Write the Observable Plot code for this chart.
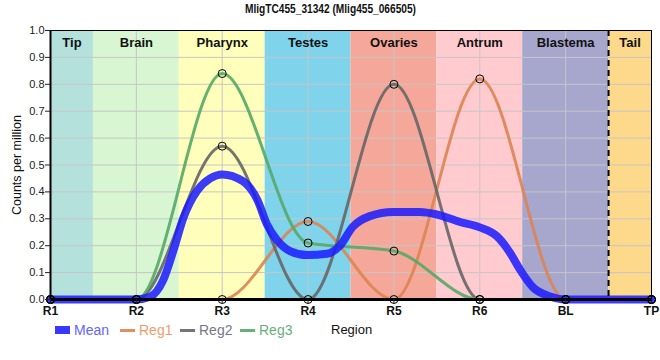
<!DOCTYPE html>
<html><head><meta charset="utf-8">
<script src="https://cdn.jsdelivr.net/npm/d3@7"></script>
<script src="https://cdn.jsdelivr.net/npm/@observablehq/plot@0.6"></script>
<style>
body{margin:0;background:#fff;font-family:"Liberation Sans",Arial,sans-serif;}
#wrap{position:relative;width:660px;height:360px;overflow:hidden;}
#title{position:absolute;top:1px;left:0;width:660px;text-align:center;font-weight:bold;font-size:13px;color:#111;line-height:16px;}
#tt{display:inline-block;transform-origin:center;}
#ylab{position:absolute;left:17px;top:165px;transform:translate(-50%,-50%) rotate(-90deg);font-size:12.5px;color:#111;white-space:nowrap;}
.lg{position:absolute;font-size:14px;line-height:16px;top:322px;white-space:nowrap;}
.sw{position:absolute;}
</style></head><body>
<div id="wrap">
<div id="chart"></div>
<div id="title"><span id="tt">MligTC455_31342 (Mlig455_066505)</span></div>
<div id="ylab">Counts per million</div>
<div id="legend"></div>
</div>
<script>
const positions = ["R1","R2","R3","R4","R5","R6","BL","TP"];
const regions = ["Tip","Brain","Pharynx","Testes","Ovaries","Antrum","Blastema","Tail"];
const regionColors = ["#b4e1dc","#d7f6d1","#ffffbb","#7fd3eb","#f5a89a","#ffcbcf","#a7a6cd","#fdd98b"];
const reg1 = [0, 0, 0, 0.29, 0, 0.82, 0, 0];
const reg2 = [0, 0, 0.57, 0, 0.80, 0, 0, 0];
const reg3 = [0, 0, 0.84, 0.21, 0.18, 0, 0, 0];
// Mean curve (x in position units)
const meanAt    = [0, 1, 1.16, 1.31, 1.43, 1.55, 1.71, 1.86, 2, 2.24, 2.41, 2.52, 2.64, 2.79, 2.99, 3.22, 3.37, 3.52, 3.72, 3.99, 4.30, 4.5, 4.77, 5.0, 5.2, 5.35, 5.47, 5.62, 5.81, 6, 7];
const meanValue = [0, 0, 0.01, 0.07, 0.18, 0.305, 0.405, 0.45, 0.465, 0.44, 0.37, 0.28, 0.22, 0.18, 0.165, 0.17, 0.20, 0.27, 0.31, 0.325, 0.325, 0.316, 0.288, 0.268, 0.235, 0.175, 0.11, 0.045, 0.012, 0, 0];
const yTicks = [0,0.1,0.2,0.3,0.4,0.5,0.6,0.7,0.8,0.9,1.0];
const seriesNames = ["Reg1","Reg2","Reg3"];
const seriesColors = ["#dd8452","#666666","#55a868"];
const legendTextColors = ["#eb9e6c","#77778a","#66b07a"];

const last = positions.length - 1;
const bands = regions.map((name,i)=>({name, x1: Math.max(0,i-0.5), x2: Math.min(last,i+0.5), color: regionColors[i]}));
const seriesData = [reg1,reg2,reg3].map((v,s)=>v.map((y,i)=>({series:seriesNames[s], x:i, y})));
const allPts = seriesData.flat();
const meanRows = meanAt.map((x,i)=>({x, y:meanValue[i]}));

const plot = Plot.plot({
  width:660, height:360, marginTop:30, marginBottom:61, marginLeft:50, marginRight:9,
  style:{fontFamily:"Liberation Sans, Arial, sans-serif", fontSize:"11px", color:"#222", background:"transparent", overflow:"visible"},
  x:{domain:[0,last]},
  y:{domain:[0,1]},
  marks:[
    ...bands.map(b=>Plot.rect([b],{x1:"x1",x2:"x2",y1:0,y2:1,fill:b.color})),
    Plot.gridY(yTicks,{stroke:"#c6c6c6",strokeOpacity:1}),
    Plot.gridX(d3.range(positions.length),{stroke:"#c6c6c6",strokeOpacity:1}),
    ...seriesData.map((rows,s)=>Plot.line(rows,{x:"x",y:"y",stroke:seriesColors[s],strokeWidth:3,strokeOpacity:0.9,curve:"monotone-x"})),
    Plot.line(meanRows,{x:"x",y:"y",stroke:"#1a1aff",strokeWidth:8,strokeOpacity:0.85,curve:"monotone-x"}),
    Plot.frame({stroke:"black",strokeWidth:1}),
    Plot.ruleX([0],{stroke:"black",strokeWidth:2}),
    Plot.ruleY([0],{stroke:"black",strokeWidth:3}),
    Plot.ruleX([bands[last].x1],{stroke:"black",strokeWidth:2,strokeDasharray:"6,4"}),
    Plot.dot(allPts,{x:"x",y:"y",r:4,stroke:"black",fill:"none",strokeWidth:1}),
    Plot.axisY(yTicks,{tickFormat:d3.format(".1f"),tickSize:5,tickPadding:1,label:null,fontSize:11,fill:"#222"}),
    Plot.axisX(d3.range(positions.length),{tickFormat:i=>positions[i],tickSize:5,tickPadding:2,label:null,fontSize:12,fontWeight:"bold",fill:"#111"}),
    Plot.text(bands,{x:d=>(d.x1+d.x2)/2,y:1,dy:12,text:"name",fontWeight:"bold",fontSize:13,fill:"#111"})
  ]
});
document.getElementById("chart").appendChild(plot);

// title width fit
const tt = document.getElementById("tt");
const w = tt.getBoundingClientRect().width;
tt.style.transform = `scaleX(${171/w})`;

// legend
const lg = document.getElementById("legend");
function add(html){ lg.insertAdjacentHTML("beforeend", html); }
add(`<div class="sw" style="left:55px;top:326px;width:15px;height:8px;background:#2222ff;opacity:0.9"></div>`);
add(`<div class="lg" style="left:74px;color:#6464ff">Mean</div>`);
const lgX = [120,180,240];
seriesNames.forEach((n,s)=>{
  add(`<div class="sw" style="left:${lgX[s]}px;top:329px;width:15px;height:3px;background:${seriesColors[s]};opacity:0.9"></div>`);
  add(`<div class="lg" style="left:${lgX[s]+19}px;color:${legendTextColors[s]}">${n}</div>`);
});
add(`<div class="lg" style="left:331px;color:#111;font-size:13px">Region</div>`);
</script>
</body></html>
